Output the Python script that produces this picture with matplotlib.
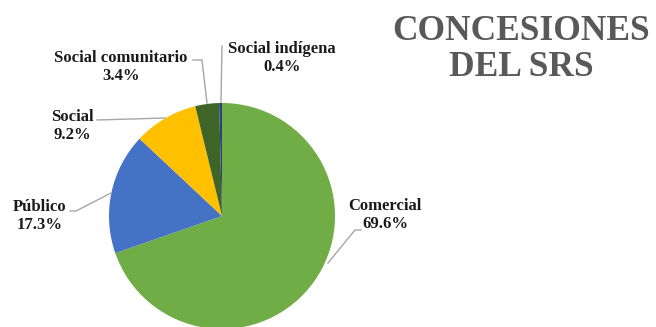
import numpy as np
from matplotlib import pyplot as plt

labels = ['Comercial', 'Público', 'Social', 'Social comunitario', 'Social indígena']
shares = [69.6, 17.3, 9.2, 3.4, 0.4]
colors = ['#70AD47', '#4472C4', '#FFC000', '#3F6428', '#264478']

W, H = 656, 327
plt.rcParams['font.family'] = ['Liberation Serif', 'DejaVu Serif']

fig = plt.figure(figsize=(W / 100, H / 100), dpi=100)
ax = fig.add_axes([0, 0, 1, 1])

# pie geometry in pixel units (y measured from top in the reference)
cx, cy, r = 222, H - 216, 113
ax.pie(shares, colors=colors, startangle=90, counterclock=False,
       center=(cx, cy), radius=r, frame=True,
       wedgeprops=dict(linewidth=0))
ax.set_xlim(0, W)
ax.set_ylim(0, H)
ax.set_aspect('equal')
ax.axis('off')

# label positions (text centre) and leader line paths, top-origin pixels
label_pos = {
    'Comercial': (385, 215),
    'Público': (40, 216),
    'Social': (72, 126),
    'Social comunitario': (121, 67),
    'Social indígena': (282, 58),
}
leaders = {
    'Comercial': [(361, 230), (355, 230), (328, 263)],
    'Público': [(70, 211), (76, 211), (111, 193)],
    'Social': [(97, 120), (165, 118)],
    'Social comunitario': [(193, 60), (202, 60), (207, 103)],
    'Social indígena': [(222, 46), (221, 102)],
}

for lab, val in zip(labels, shares):
    x, y = label_pos[lab]
    ax.text(x, H - y, f'{lab}\n{val:.1f}%', ha='center', va='center',
            fontsize=12, fontweight='bold', color='#1a1a1a', linespacing=1.2)
    pts = np.array(leaders[lab], dtype=float)
    ax.plot(pts[:, 0], H - pts[:, 1], color='#a6a6a6', lw=1, zorder=1)

ax.text(521, H - 49, 'CONCESIONES\nDEL SRS', ha='center', va='center',
        fontsize=25.5, fontweight='bold', color='#595959', linespacing=1.12)

fig.savefig('out.png', dpi=100)
